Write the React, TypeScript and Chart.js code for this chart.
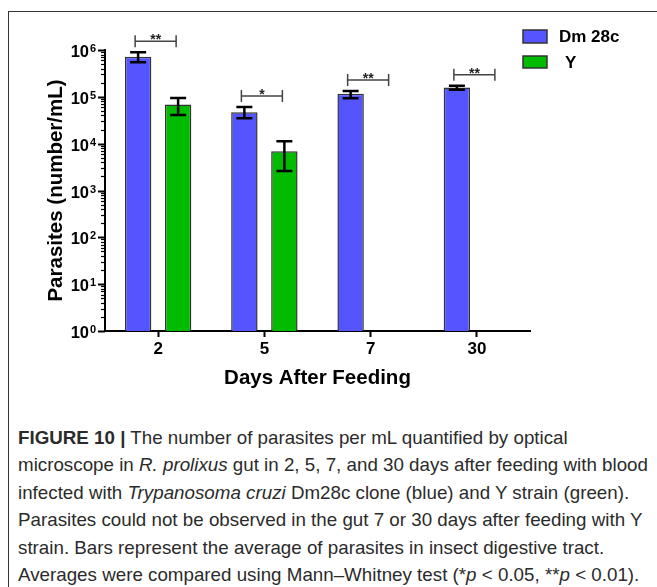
import React, { useEffect, useLayoutEffect, useRef } from "react";
import { Chart, registerables } from "chart.js";

Chart.register(...registerables);

// ---------- data ----------
const days = ["2", "5", "7", "30"];
const seriesNames = ["Dm 28c", "Y"];
const dm28cMean = [7.2e5, 4.7e4, 1.16e5, 1.59e5];
const dm28cHigh = [8.9e5, 6.1e4, 1.34e5, 1.72e5];
const dm28cLow = [5.5e5, 3.5e4, 9.3e4, 1.41e5];
const yStrainMean = [6.9e4, 6.9e3, null, null];
const yStrainHigh = [9.4e4, 1.12e4, null, null];
const yStrainLow = [4.1e4, 2.6e3, null, null];
const significance = ["**", "*", "**", "**"];
const yExponents = [0, 1, 2, 3, 4, 5, 6];
const yAxisTitle = "Parasites (number/mL)";
const xAxisTitle = "Days After Feeding";
const seriesColors = ["#5555ff", "#00bb00"];

const FONT = "'Liberation Sans', Arial, Helvetica, sans-serif";

const decorations = {
  id: "decorations",
  afterDatasetsDraw(chart: any) {
    const ctx = chart.ctx as CanvasRenderingContext2D;
    const xs = chart.scales.x;
    const ys = chart.scales.y;
    const highs = [dm28cHigh, yStrainHigh];
    const lows = [dm28cLow, yStrainLow];
    ctx.save();

    // error bars
    for (let d = 0; d < 2; d++) {
      const meta = chart.getDatasetMeta(d);
      meta.data.forEach((bar: any, i: number) => {
        const hi = highs[d][i];
        const lo = lows[d][i];
        if (hi == null || lo == null) return;
        const cx = bar.x;
        const yh = ys.getPixelForValue(hi);
        const yl = ys.getPixelForValue(lo);
        ctx.strokeStyle = "#000";
        ctx.lineWidth = 2.5;
        ctx.lineCap = "butt";
        ctx.beginPath();
        ctx.moveTo(cx, yh);
        ctx.lineTo(cx, yl);
        ctx.moveTo(cx - 8, yh);
        ctx.lineTo(cx + 8, yh);
        ctx.moveTo(cx - 8, yl);
        ctx.lineTo(cx + 8, yl);
        ctx.stroke();
      });
    }

    // significance brackets
    significance.forEach((label, i) => {
      const vals = [dm28cHigh[i], yStrainHigh[i]].filter((v) => v != null) as number[];
      const topPx = Math.min(...vals.map((v) => ys.getPixelForValue(v)));
      const by = topPx - 11;
      const cx = xs.getPixelForValue(i);
      const x1 = cx - 23;
      const x2 = cx + 18;
      ctx.strokeStyle = "#444";
      ctx.lineWidth = 1.5;
      ctx.beginPath();
      ctx.moveTo(x1, by);
      ctx.lineTo(x2, by);
      ctx.moveTo(x1, by - 6);
      ctx.lineTo(x1, by + 6);
      ctx.moveTo(x2, by - 6);
      ctx.lineTo(x2, by + 6);
      ctx.stroke();
      ctx.fillStyle = "#222";
      ctx.font = `bold 14px ${FONT}`;
      ctx.textAlign = "center";
      ctx.textBaseline = "alphabetic";
      ctx.fillText(label, (x1 + x2) / 2, by + 3);
    });
    ctx.restore();
  },
  afterDraw(chart: any) {
    const ctx = chart.ctx as CanvasRenderingContext2D;
    const ys = chart.scales.y;
    const ca = chart.chartArea;
    ctx.save();
    const ax = ca.left;

    // y ticks (major + minor)
    ctx.strokeStyle = "#000";
    yExponents.forEach((k) => {
      const maxM = k === yExponents[yExponents.length - 1] ? 1 : 9;
      for (let m = 1; m <= maxM; m++) {
        const py = Math.round(ys.getPixelForValue(m * Math.pow(10, k))) + 0.5;
        const len = m === 1 ? 7 : 4;
        ctx.lineWidth = m === 1 ? 2 : 1.2;
        ctx.beginPath();
        ctx.moveTo(ax - len, py);
        ctx.lineTo(ax, py);
        ctx.stroke();
      }
    });

    // y tick labels 10^k
    ctx.fillStyle = "#000";
    yExponents.forEach((k) => {
      const py = ys.getPixelForValue(Math.pow(10, k));
      ctx.font = `bold 16.5px ${FONT}`;
      ctx.textAlign = "right";
      ctx.textBaseline = "alphabetic";
      ctx.fillText("10", ax - 16, py + 7);
      ctx.font = `bold 11px ${FONT}`;
      ctx.textAlign = "left";
      ctx.fillText(String(k), ax - 15, py + 2);
    });

    // axis titles
    ctx.font = `bold 20.5px ${FONT}`;
    ctx.textAlign = "center";
    ctx.textBaseline = "middle";
    ctx.fillText(xAxisTitle, (ca.left + ca.right) / 2, 378);
    ctx.save();
    ctx.translate(56, (ca.top + ca.bottom) / 2);
    ctx.rotate(-Math.PI / 2);
    ctx.fillText(yAxisTitle, 0, 0);
    ctx.restore();

    // legend
    const boxes = [
      { y: 30, h: 13, tx: 559 },
      { y: 56, h: 12, tx: 565 },
    ];
    chart.data.datasets.forEach((ds: any, i: number) => {
      const b = boxes[i];
      ctx.fillStyle = ds.backgroundColor;
      ctx.fillRect(523, b.y, 24, b.h);
      ctx.strokeStyle = "#333";
      ctx.lineWidth = 1.5;
      ctx.strokeRect(523, b.y, 24, b.h);
      ctx.fillStyle = "#000";
      ctx.font = `bold 17px ${FONT}`;
      ctx.textAlign = "left";
      ctx.textBaseline = "middle";
      ctx.fillText(ds.label, b.tx, b.y + b.h / 2 + 1);
    });
    ctx.restore();
  },
};

function BarChart() {
  const ref = useRef<HTMLCanvasElement | null>(null);
  useEffect(() => {
    if (!ref.current) return;
    Chart.defaults.font.family = FONT;
    const chart = new Chart(ref.current, {
      type: "bar",
      data: {
        labels: days,
        datasets: [
          {
            label: seriesNames[0],
            data: dm28cMean,
            backgroundColor: seriesColors[0],
            borderColor: "#333",
            borderWidth: 1.5,
            categoryPercentage: 0.753,
            barPercentage: 0.66,
          },
          {
            label: seriesNames[1],
            data: yStrainMean as any,
            backgroundColor: seriesColors[1],
            borderColor: "#333",
            borderWidth: 1.5,
            categoryPercentage: 0.753,
            barPercentage: 0.66,
          },
        ],
      },
      options: {
        responsive: false,
        animation: false,
        layout: { padding: { left: 0, right: 127, top: 50, bottom: 0 } },
        plugins: {
          legend: { display: false },
          tooltip: { enabled: false },
        },
        scales: {
          x: {
            type: "category",
            grid: {
              display: true,
              offset: false,
              drawOnChartArea: false,
              drawTicks: true,
              tickLength: 6,
              tickWidth: 2,
              tickColor: "#000",
            },
            border: { display: true, color: "#000", width: 2 },
            ticks: {
              color: "#000",
              font: { family: FONT, size: 17, weight: "bold" },
              padding: 2,
            },
            afterFit: (s: any) => {
              s.height = 61;
            },
          },
          y: {
            type: "logarithmic",
            min: 1,
            max: 1e6,
            grid: { display: false, drawTicks: false },
            border: { display: true, color: "#000", width: 2 },
            ticks: { display: false },
            afterFit: (s: any) => {
              s.width = 105;
            },
          },
        },
      },
      plugins: [decorations],
    });
    return () => chart.destroy();
  }, []);
  return <canvas ref={ref} width={657} height={392} style={{ display: "block" }} />;
}

function Caption() {
  const boxRef = useRef<HTMLDivElement | null>(null);
  const lineRef = useRef<HTMLSpanElement | null>(null);
  useLayoutEffect(() => {
    if (!boxRef.current || !lineRef.current) return;
    const w = lineRef.current.getBoundingClientRect().width;
    if (w > 0) {
      const s = 630 / w;
      boxRef.current.style.transform = `scaleX(${s})`;
    }
  }, []);
  return (
    <div
      ref={boxRef}
      style={{
        position: "absolute",
        left: 18,
        top: 423.5,
        fontFamily: FONT,
        fontSize: 19,
        lineHeight: "27.6px",
        color: "#2b2b2b",
        whiteSpace: "nowrap",
        transformOrigin: "0 0",
      }}
    >
      <div>
        <span>
          <b>FIGURE 10 |</b> The number of parasites per mL quantified by optical
        </span>
      </div>
      <div>
        <span ref={lineRef}>
          microscope in <i>R. prolixus</i> gut in 2, 5, 7, and 30 days after feeding with blood
        </span>
      </div>
      <div>
        <span>
          infected with <i>Trypanosoma cruzi</i> Dm28c clone (blue) and Y strain (green).
        </span>
      </div>
      <div>
        <span>Parasites could not be observed in the gut 7 or 30 days after feeding with Y</span>
      </div>
      <div>
        <span>strain. Bars represent the average of parasites in insect digestive tract.</span>
      </div>
      <div>
        <span>
          Averages were compared using Mann–Whitney test (*<i>p</i> &lt; 0.05, **<i>p</i> &lt; 0.01).
        </span>
      </div>
    </div>
  );
}

export default function App() {
  return (
    <>
      <div
        style={{
          position: "absolute",
          left: 8,
          top: 11,
          width: 649,
          height: 576,
          borderTop: "1px solid #333",
          borderLeft: "1px solid #333",
          boxSizing: "border-box",
        }}
      />
      <div style={{ position: "absolute", left: 0, top: 0, width: 657, height: 392 }}>
        <BarChart />
      </div>
      <Caption />
    </>
  );
}
